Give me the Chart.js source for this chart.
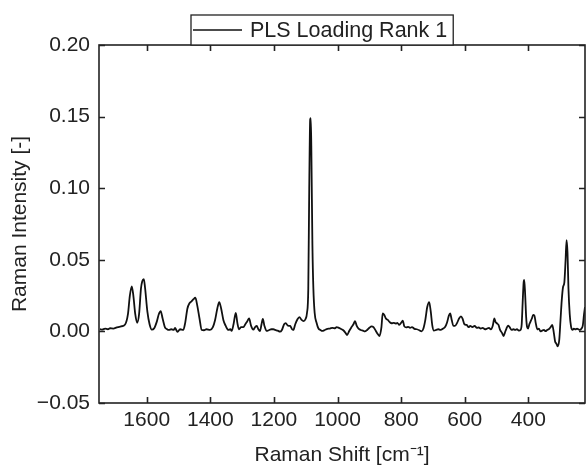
<!DOCTYPE html>
<html>
<head>
<meta charset="utf-8">
<script src="https://cdn.jsdelivr.net/npm/chart.js@4.4.1/dist/chart.umd.min.js"></script>
<style>
  html, body { margin: 0; padding: 0; background: #fff; }
</style>
</head>
<body>
<canvas id="plsChart" width="587" height="469"></canvas>
<script>
// Raman shift [cm-1] and PLS loading (rank 1)
const ramanShift = [
  1747, 1740, 1731, 1722, 1715, 1705, 1694, 1681, 1668, 1659, 1653, 1647, 1642, 1636, 1630, 1624,
  1618, 1614, 1609, 1605, 1598, 1591, 1584, 1577, 1568, 1562, 1556, 1550, 1543, 1537, 1530, 1523,
  1515, 1511, 1506, 1503, 1495, 1485, 1479, 1472, 1466, 1459, 1453, 1447, 1441, 1434, 1427, 1420,
  1412, 1401, 1392, 1385, 1378, 1372, 1366, 1359, 1352, 1343, 1337, 1333, 1327, 1320, 1315, 1310,
  1303, 1296, 1290, 1284, 1278, 1272, 1265, 1259, 1254, 1249, 1244, 1239, 1235, 1230, 1223, 1216,
  1208, 1202, 1196, 1188, 1181, 1175, 1168, 1163, 1156, 1149, 1143, 1139, 1133, 1126, 1120, 1113,
  1107, 1101, 1096, 1092, 1089, 1086, 1084, 1082, 1079, 1076, 1072, 1066, 1060, 1054, 1048, 1040,
  1032, 1024, 1016, 1008, 1003, 996, 990, 982, 975, 970, 963, 956, 950, 945, 940, 934,
  927, 920, 914, 907, 900, 893, 887, 880, 873, 868, 862, 858, 853, 848, 842, 836,
  830, 824, 817, 812, 806, 800, 795, 790, 784, 778, 772, 766, 758, 751, 743, 736,
  730, 724, 718, 712, 707, 702, 697, 690, 683, 676, 668, 662, 656, 650, 646, 641,
  636, 631, 624, 618, 612, 607, 601, 594, 588, 583, 576, 569, 562, 556, 550, 544,
  536, 530, 524, 518, 512, 507, 503, 498, 494, 489, 483, 478, 474, 469, 464, 459,
  453, 447, 441, 436, 430, 425, 421, 418, 415, 413, 410, 407, 404, 401, 397, 393,
  389, 385, 381, 377, 372, 367, 362, 357, 351, 346, 341, 336, 330, 325, 320, 316,
  312, 308, 303, 299, 295, 291, 287, 283, 280, 277, 274, 270, 266, 261, 257, 252,
  247, 243, 238, 233, 229, 225, 222
];
const plsLoading = [
  0.0015, 0.0012, 0.0020, 0.0015, 0.0022, 0.0020, 0.0028, 0.0035, 0.0048, 0.0120, 0.0250, 0.0315, 0.0250, 0.0120, 0.0060, 0.0120,
  0.0300, 0.0350, 0.0365, 0.0300, 0.0140, 0.0050, 0.0012, 0.0020, 0.0070, 0.0120, 0.0142, 0.0090, 0.0030, 0.0017, 0.0010, 0.0015,
  0.0010, 0.0025, 0.0005, -0.0003, 0.0015, 0.0010, 0.0060, 0.0160, 0.0195, 0.0210, 0.0225, 0.0235, 0.0180, 0.0090, 0.0010, 0.0008,
  0.0015, 0.0010, 0.0030, 0.0080, 0.0160, 0.0205, 0.0160, 0.0080, 0.0040, 0.0010, 0.0015, 0.0003, 0.0050, 0.0130, 0.0060, 0.0015,
  0.0030, 0.0030, 0.0050, 0.0070, 0.0090, 0.0040, 0.0012, 0.0030, 0.0038, 0.0015, 0.0002, 0.0050, 0.0087, 0.0040, 0.0003, 0.0008,
  0.0015, 0.0015, 0.0010, 0.0005, -0.0002, 0.0010, 0.0050, 0.0058, 0.0040, 0.0038, 0.0015, 0.0010, 0.0050, 0.0085, 0.0100, 0.0080,
  0.0072, 0.0085, 0.0130, 0.0300, 0.1000, 0.1480, 0.1490, 0.1200, 0.0600, 0.0300, 0.0130, 0.0060, 0.0020, 0.0010, 0.0003, 0.0010,
  0.0018, 0.0020, 0.0025, 0.0022, 0.0030, 0.0025, 0.0018, 0.0008, -0.0010, -0.0025, 0.0005, 0.0030, 0.0050, 0.0072, 0.0040, 0.0020,
  0.0010, 0.0005, 0.0000, 0.0010, 0.0025, 0.0035, 0.0030, 0.0005, -0.0020, -0.0032, 0.0030, 0.0125, 0.0115, 0.0090, 0.0080, 0.0065,
  0.0057, 0.0060, 0.0055, 0.0060, 0.0045, 0.0060, 0.0075, 0.0035, 0.0028, 0.0032, 0.0025, 0.0030, 0.0018, 0.0015, 0.0008, 0.0000,
  0.0020, 0.0080, 0.0170, 0.0205, 0.0140, 0.0040, 0.0005, 0.0010, 0.0015, 0.0010, 0.0020, 0.0030, 0.0060, 0.0110, 0.0125, 0.0080,
  0.0040, 0.0038, 0.0060, 0.0090, 0.0105, 0.0090, 0.0050, 0.0045, 0.0030, 0.0038, 0.0030, 0.0038, 0.0025, 0.0028, 0.0020, 0.0025,
  0.0015, 0.0020, 0.0025, 0.0015, 0.0040, 0.0090, 0.0065, 0.0055, 0.0045, 0.0010, -0.0010, -0.0032, -0.0010, 0.0020, 0.0040, 0.0030,
  0.0010, 0.0015, 0.0010, 0.0015, 0.0005, 0.0010, 0.0050, 0.0200, 0.0340, 0.0360, 0.0250, 0.0100, 0.0030, 0.0020, 0.0050, 0.0070,
  0.0090, 0.0115, 0.0110, 0.0060, 0.0015, 0.0020, 0.0000, 0.0005, 0.0010, 0.0002, 0.0010, 0.0015, 0.0030, 0.0045, -0.0010, -0.0070,
  -0.0085, -0.0105, -0.0060, 0.0080, 0.0220, 0.0310, 0.0340, 0.0500, 0.0638, 0.0550, 0.0300, 0.0120, 0.0035, 0.0010, 0.0020, 0.0015,
  0.0020, 0.0015, 0.0010, 0.0020, 0.0040, 0.0120, 0.0170
];

const xTicks = [1600, 1400, 1200, 1000, 800, 600, 400];
const yTicks = [-0.05, 0.00, 0.05, 0.10, 0.15, 0.20];
const xRange = [222, 1750];
const yRange = [-0.05, 0.20];
const seriesLabel = 'PLS Loading Rank 1';

const fontFamily = '"Liberation Sans", Arial, Helvetica, sans-serif';
const inkColor = '#222';
const tickLen = 6;

// frame on all four sides with inward ticks, plus the boxed legend above the plot
const frameAndLegend = {
  id: 'frameAndLegend',
  afterDatasetsDraw(chart) {
    const { ctx, chartArea: a, scales: { x, y } } = chart;
    ctx.save();
    ctx.strokeStyle = inkColor;
    ctx.lineWidth = 1.6;
    ctx.strokeRect(a.left, a.top, a.right - a.left, a.bottom - a.top);

    ctx.beginPath();
    xTicks.forEach(v => {
      const px = Math.round(x.getPixelForValue(v)) + 0.5;
      ctx.moveTo(px, a.bottom); ctx.lineTo(px, a.bottom - tickLen);
      ctx.moveTo(px, a.top); ctx.lineTo(px, a.top + tickLen);
    });
    yTicks.forEach(v => {
      const py = Math.round(y.getPixelForValue(v)) + 0.5;
      ctx.moveTo(a.left, py); ctx.lineTo(a.left + tickLen, py);
      ctx.moveTo(a.right, py); ctx.lineTo(a.right - tickLen, py);
    });
    ctx.stroke();

    // legend
    ctx.font = '21.5px ' + fontFamily;
    const textW = ctx.measureText(seriesLabel).width;
    const boxX = 191, boxH = 30, boxY = a.top - boxH;
    const boxW = 59 + textW + 6;
    ctx.fillStyle = '#fff';
    ctx.fillRect(boxX, boxY, boxW, boxH);
    ctx.lineWidth = 1.3;
    ctx.strokeRect(boxX, boxY, boxW, boxH);
    ctx.beginPath();
    ctx.lineWidth = 1.7;
    ctx.strokeStyle = '#111';
    ctx.moveTo(boxX + 2, boxY + 15);
    ctx.lineTo(boxX + 51, boxY + 15);
    ctx.stroke();
    ctx.fillStyle = inkColor;
    ctx.textBaseline = 'middle';
    ctx.fillText(seriesLabel, boxX + 59, boxY + 16);
    ctx.restore();
  }
};

const points = ramanShift.map((s, i) => ({ x: s, y: plsLoading[i] }));

new Chart(document.getElementById('plsChart'), {
  type: 'line',
  data: {
    datasets: [{
      label: seriesLabel,
      data: points,
      borderColor: '#111',
      borderWidth: 1.8,
      pointRadius: 0,
      cubicInterpolationMode: 'monotone',
      fill: false
    }]
  },
  options: {
    responsive: false,
    animation: false,
    layout: { padding: { top: 45, right: 2, left: 0, bottom: 0 } },
    plugins: {
      legend: { display: false },
      tooltip: { enabled: false }
    },
    scales: {
      x: {
        type: 'linear',
        reverse: true,
        min: xRange[0],
        max: xRange[1],
        afterBuildTicks: s => { s.ticks = xTicks.map(v => ({ value: v })); },
        afterFit: s => { s.height = 66; },
        grid: { display: false, drawTicks: false },
        border: { display: false },
        ticks: {
          padding: 5,
          color: inkColor,
          font: { family: fontFamily, size: 21 },
          maxRotation: 0,
          callback: v => String(v)
        },
        title: {
          display: true,
          text: 'Raman Shift [cm⁻¹]',
          color: inkColor,
          font: { family: fontFamily, size: 21 },
          padding: { top: 0, bottom: 1 }
        }
      },
      y: {
        type: 'linear',
        min: yRange[0],
        max: yRange[1],
        afterBuildTicks: s => { s.ticks = yTicks.map(v => ({ value: v })); },
        afterFit: s => { s.width = 99; },
        grid: { display: false, drawTicks: false },
        border: { display: false },
        ticks: {
          padding: 9,
          color: inkColor,
          font: { family: fontFamily, size: 21 },
          callback: v => v.toFixed(2).replace('-', '\u2212')
        },
        title: {
          display: true,
          text: 'Raman Intensity [-]',
          color: inkColor,
          font: { family: fontFamily, size: 21 },
          padding: { top: 8, bottom: 0 }
        }
      }
    }
  },
  plugins: [frameAndLegend]
});
</script>
</body>
</html>
